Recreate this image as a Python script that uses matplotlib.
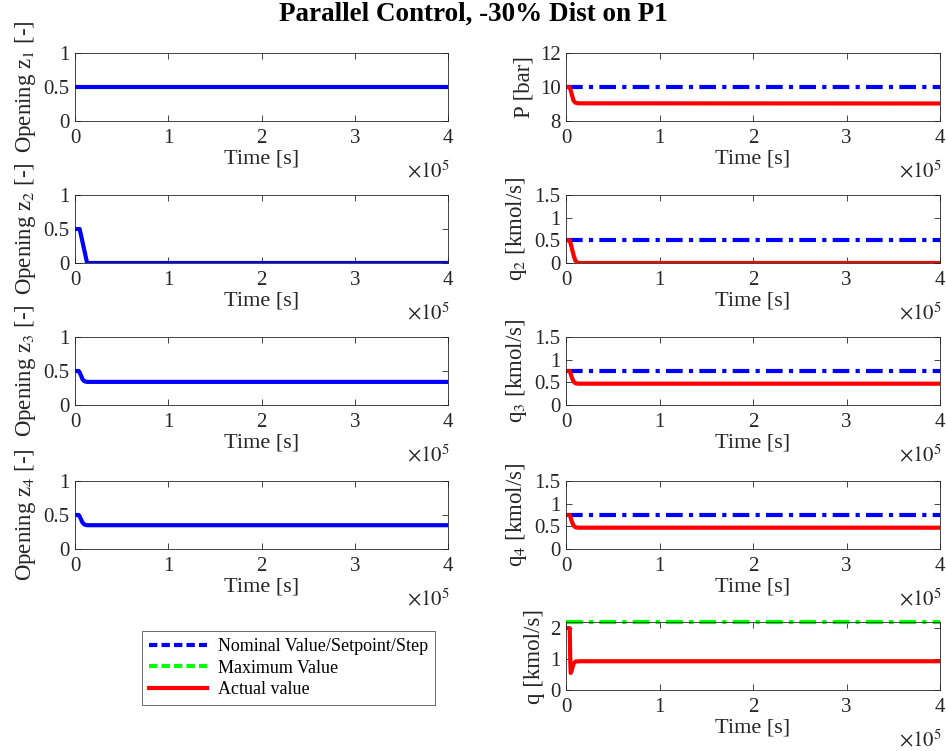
import matplotlib
matplotlib.use('Agg')
import matplotlib.pyplot as plt
from matplotlib.lines import Line2D

plt.rcParams['font.family'] = ['Liberation Serif', 'DejaVu Serif']
plt.rcParams['mathtext.fontset'] = 'stix'

# time samples [s] for the transients
t_z2 = [0, 0.05e5, 0.13e5, 4e5]
z1 = [0.5, 0.5, 0.5, 0.5]
z2 = [0.5, 0.5, 0.0, 0.0]
t_s = [0, 0.04e5, 0.06e5, 0.08e5, 0.10e5, 0.13e5, 4e5]
z3 = [0.5, 0.5, 0.45, 0.38, 0.35, 0.34, 0.34]
z4 = [0.5, 0.5, 0.45, 0.39, 0.36, 0.35, 0.35]
P = [10.0, 10.0, 9.6, 9.2, 9.08, 9.04, 9.03]
q2 = [0.5, 0.5, 0.35, 0.18, 0.05, 0.0, 0.0]
q3 = [0.75, 0.75, 0.62, 0.52, 0.48, 0.47, 0.47]
q4 = [0.75, 0.75, 0.62, 0.52, 0.48, 0.47, 0.47]
t_q = [0, 0.04e5, 0.045e5, 0.05e5, 0.06e5, 0.08e5, 0.10e5, 0.15e5, 4e5]
q = [2.0, 2.0, 1.0, 0.55, 0.62, 0.85, 0.92, 0.93, 0.93]

t_flat = [0, 4e5]
P_sp = [10, 10]
q2_sp = [0.5, 0.5]
q3_sp = [0.75, 0.75]
q4_sp = [0.75, 0.75]
q_max = [2.2, 2.2]

W, H = 946, 751
fig = plt.figure(figsize=(W / 100, H / 100), dpi=100)

tops = [53, 195, 337, 481, 622]
ah = 68


def make_ax(x0, x1, top, ylim, yticks, ylabel):
    ax = fig.add_axes([x0 / W, (H - top - ah) / H, (x1 - x0) / W, ah / H])
    ax.set_xlim(0, 4e5)
    ax.set_ylim(*ylim)
    ax.set_xticks([0, 1e5, 2e5, 3e5, 4e5])
    ax.set_xticklabels(['0', '1', '2', '3', '4'])
    ax.set_yticks(yticks)
    ax.set_yticklabels(['%g' % v for v in yticks])
    ax.tick_params(direction='in', top=True, right=True, labelsize=15,
                   colors='#262626', length=4, width=0.6)
    ax.tick_params(axis='x', pad=6)
    ax.tick_params(axis='y', pad=4)
    for s in ax.spines.values():
        s.set_color('#262626')
        s.set_linewidth(0.6)
    ax.set_xlabel('Time [s]', fontsize=16, color='#262626', labelpad=1)
    ax.set_ylabel(ylabel, fontsize=16.5, color='#262626', labelpad=4)
    ax.text(1.005, -0.74, r'$\times 10^5$', transform=ax.transAxes,
            ha='right', va='center', fontsize=15, color='#262626')
    return ax


lw = 3
blue, red, green = '#0000ff', '#ff0000', '#00ff00'
dd = (0, (4, 1.5, 1, 1.5))

zs = [(t_z2, z1), (t_z2, z2), (t_s, z3), (t_s, z4)]
for i, (tt, zz) in enumerate(zs):
    ax = make_ax(75, 448, tops[i], (0, 1), [0, 0.5, 1],
                 r'Opening z$_%d$ [-]' % (i + 1))
    ax.plot(tt, zz, color=blue, lw=lw)

ax = make_ax(566, 940, tops[0], (8, 12), [8, 10, 12], 'P [bar]')
ax.plot(t_flat, P_sp, color=blue, lw=lw, ls=dd)
ax.plot(t_s, P, color=red, lw=lw)

for i, (sp, qq) in enumerate([(q2_sp, q2), (q3_sp, q3), (q4_sp, q4)]):
    ax = make_ax(566, 940, tops[i + 1], (0, 1.5), [0, 0.5, 1, 1.5],
                 r'q$_%d$ [kmol/s]' % (i + 2))
    ax.plot(t_flat, sp, color=blue, lw=lw, ls=dd)
    ax.plot(t_s, qq, color=red, lw=lw)

ax = make_ax(566, 940, tops[4], (0, 2.2), [0, 1, 2], 'q [kmol/s]')
ax.plot(t_flat, q_max, color=green, lw=lw, ls=dd, clip_on=False)
ax.plot(t_q, q, color=red, lw=lw)

handles = [Line2D([], [], color=blue, lw=lw, ls=(0, (2, 1))),
           Line2D([], [], color=green, lw=lw, ls=(0, (2, 1))),
           Line2D([], [], color=red, lw=lw)]
labels = ['Nominal Value/Setpoint/Step', 'Maximum Value', 'Actual value']
leg = fig.legend(handles, labels, loc='upper left',
                 bbox_to_anchor=(142 / W, 1 - 631 / H), borderaxespad=0,
                 fontsize=13, frameon=True, fancybox=False,
                 edgecolor='#262626', handlelength=3.2, borderpad=0.4,
                 labelspacing=0.25, handletextpad=0.6)
leg.get_frame().set_linewidth(0.6)

fig.suptitle('Parallel Control, -30% Dist on P1', fontsize=19.5,
             fontweight='bold', y=1 - 2 / H, va='top')

fig.savefig('out.png', dpi=100)
